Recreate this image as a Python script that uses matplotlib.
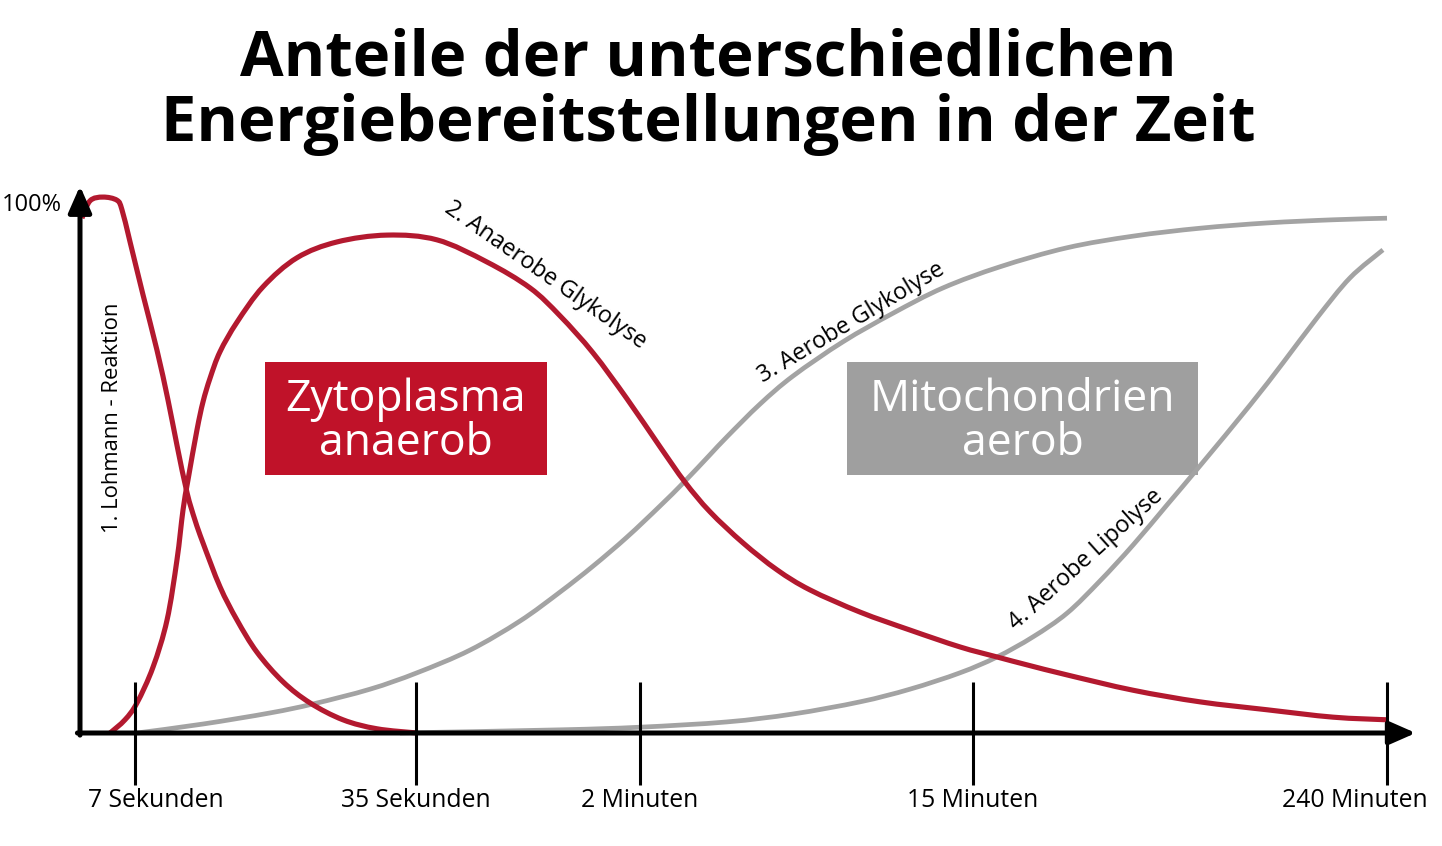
import matplotlib
matplotlib.use("Agg")
import matplotlib.pyplot as plt
from matplotlib.patches import Rectangle, PathPatch
from matplotlib.path import Path

plt.rcParams['font.family'] = ['Open Sans', 'DejaVu Sans']

# time axis: 0 = origin, 100 = "240 Minuten"; y in percent
tick_pos = [4.21, 25.71, 42.85, 68.32, 100.0]
tick_labels = ['7 Sekunden', '35 Sekunden', '2 Minuten', '15 Minuten', '240 Minuten']

# 1. Lohmann-Reaktion
lohmann_x = [0.15, 0.77, 1.76, 2.83, 3.21, 3.83, 4.82, 5.89, 6.73, 7.42, 8.19, 8.80,
             9.41, 10.71, 12.01, 13.54, 15.53, 17.60, 20.12, 22.72, 25.78]
lohmann_y = [97.5, 100.8, 101.5, 100.9, 99.1, 93.0, 83.0, 72.5, 63.1, 54.5, 45.5, 40.3,
             36.0, 27.7, 21.4, 15.3, 9.7, 5.7, 2.5, 0.8, 0.0]

# 2. Anaerobe Glykolyse
anaerob_x = [2.30, 3.44, 4.36, 5.59, 6.66, 7.42, 7.88, 8.26, 8.95, 9.41, 9.95, 10.71,
             12.01, 14.00, 16.60, 19.66, 23.49, 27.31, 31.14, 34.43, 36.73, 39.25, 41.85,
             44.38, 46.29, 48.20, 50.73, 53.33, 55.85, 59.68, 63.50, 67.33, 70.16, 72.46,
             75.52, 80.57, 85.69, 90.82, 95.87, 100.0]
anaerob_y = [0.0, 2.5, 5.7, 12.5, 21.4, 32.8, 42.2, 47.9, 57.4, 62.7, 67.2, 72.2,
             77.8, 84.5, 90.0, 93.0, 94.3, 93.4, 89.2, 84.3, 79.0, 72.0, 63.3,
             54.2, 47.5, 41.9, 36.0, 30.9, 27.1, 22.9, 19.5, 16.3, 14.4, 12.9,
             11.0, 8.1, 5.9, 4.4, 3.0, 2.5]

# 3. Aerobe Glykolyse
aerob_gly_x = [4.36, 9.41, 14.54, 17.83, 22.19, 25.78, 29.84, 33.66, 36.73, 39.25, 41.85,
               44.38, 46.21, 48.20, 49.50, 52.03, 54.55, 58.38, 62.20, 66.03, 70.39,
               75.52, 80.57, 85.69, 90.82, 95.87, 100.0]
aerob_gly_y = [0.0, 1.7, 3.8, 5.5, 8.3, 11.4, 15.7, 21.2, 26.7, 31.6, 37.1,
               43.0, 47.5, 52.7, 56.1, 62.3, 67.6, 74.1, 79.5, 84.3, 88.3,
               91.9, 94.1, 95.6, 96.6, 97.2, 97.5]

# 4. Aerobe Lipolyse
lipolyse_x = [24.48, 36.73, 42.85, 49.50, 54.55, 59.68, 63.50, 67.33, 70.16, 72.91, 75.52,
              78.04, 80.57, 83.17, 85.69, 89.52, 92.04, 94.64, 97.17, 99.69]
lipolyse_y = [0.0, 0.6, 1.1, 2.1, 3.6, 5.9, 8.3, 11.4, 14.4, 18.2, 22.7,
              28.8, 35.6, 43.2, 50.6, 62.1, 70.1, 78.6, 86.2, 91.5]

RED = '#b3192f'
RED_BOX = '#c01229'
GREY = '#a3a3a3'
GREY_BOX = '#9f9f9f'


def smooth_path(xs, ys):
    # Catmull-Rom through the read points, drawn as cubic Bezier segments
    pts = list(zip(xs, ys))
    verts = [pts[0]]
    codes = [Path.MOVETO]
    for i in range(len(pts) - 1):
        p0 = pts[i - 1] if i > 0 else pts[i]
        p1 = pts[i]
        p2 = pts[i + 1]
        p3 = pts[i + 2] if i + 2 < len(pts) else pts[i + 1]
        c1 = (p1[0] + (p2[0] - p0[0]) / 6, p1[1] + (p2[1] - p0[1]) / 6)
        c2 = (p2[0] - (p3[0] - p1[0]) / 6, p2[1] - (p3[1] - p1[1]) / 6)
        verts += [c1, c2, p2]
        codes += [Path.CURVE4] * 3
    return Path(verts, codes)


fig = plt.figure(figsize=(14.42, 8.46), dpi=100)
ax = fig.add_axes([0, 0, 1, 1])
ax.set_xlim(-80 / 13.07, 1362 / 13.07)
ax.set_ylim(-113 / 5.28, 733 / 5.28)
ax.axis('off')

# curves
for xs, ys, col, lw, z in [(aerob_gly_x, aerob_gly_y, GREY, 3.4, 3),
                           (lipolyse_x, lipolyse_y, GREY, 3.4, 3),
                           (lohmann_x, lohmann_y, RED, 3.7, 4),
                           (anaerob_x, anaerob_y, RED, 3.7, 4)]:
    ax.add_patch(PathPatch(smooth_path(xs, ys), facecolor='none', edgecolor=col,
                           lw=lw, capstyle='butt', joinstyle='round', zorder=z))

# axes with arrows
arrow = dict(arrowstyle='-|>,head_length=0.5,head_width=0.22', lw=3.6, color='black',
             mutation_scale=32, shrinkA=0, shrinkB=0)
ax.annotate('', xy=(102.2, 0), xytext=(-0.2, 0), arrowprops=arrow, zorder=5)
ax.annotate('', xy=(0, 103.6), xytext=(0, -0.4), arrowprops=arrow, zorder=5)

# ticks
ax.vlines(tick_pos, -9.8, 9.7, color='black', lw=2.2, zorder=5)
for i, (p, lab) in enumerate(zip(tick_pos, tick_labels)):
    if i == 0:
        ax.text(0.6, -12.7, lab, ha='left', va='center', fontsize=17.8)
    elif i == len(tick_pos) - 1:
        ax.text(103.1, -12.7, lab, ha='right', va='center', fontsize=17.8)
    else:
        ax.text(p, -12.7, lab, ha='center', va='center', fontsize=17.8)

ax.text(-1.4, 100, '100%', ha='right', va='center', fontsize=17)

# boxes
ax.add_patch(Rectangle((14.15, 48.9), 21.58, 21.4, facecolor=RED_BOX, edgecolor='none', zorder=2))
ax.text(24.94, 58.9, 'Zytoplasma\nanaerob', ha='center', va='center', color='white',
        fontsize=32, linespacing=0.98, zorder=6)
ax.add_patch(Rectangle((58.68, 48.9), 26.86, 21.4, facecolor=GREY_BOX, edgecolor='none', zorder=2))
ax.text(72.11, 58.9, 'Mitochondrien\naerob', ha='center', va='center', color='white',
        fontsize=32, linespacing=0.98, zorder=6)

# curve labels
ax.text(2.52, 59.7, '1. Lohmann - Reaktion', rotation=90, ha='center', va='center',
        fontsize=15.8, rotation_mode='anchor')
ax.text(35.58, 86.7, '2. Anaerobe Glykolyse', rotation=-35, ha='center', va='center',
        fontsize=16.8, rotation_mode='anchor')
ax.text(58.99, 77.65, '3. Aerobe Glykolyse', rotation=31, ha='center', va='center',
        fontsize=16.8, rotation_mode='anchor')
ax.text(76.97, 32.77, '4. Aerobe Lipolyse', rotation=42, ha='center', va='center',
        fontsize=16.8, rotation_mode='anchor')

# title
fig.text(0.491, 1 - 76 / 846, 'Anteile der unterschiedlichen', ha='center', va='baseline',
         fontsize=45.5, fontweight='bold')
fig.text(0.491, 1 - 141 / 846, 'Energiebereitstellungen in der Zeit', ha='center',
         va='baseline', fontsize=45.5, fontweight='bold')

fig.savefig('out.png', dpi=100)
